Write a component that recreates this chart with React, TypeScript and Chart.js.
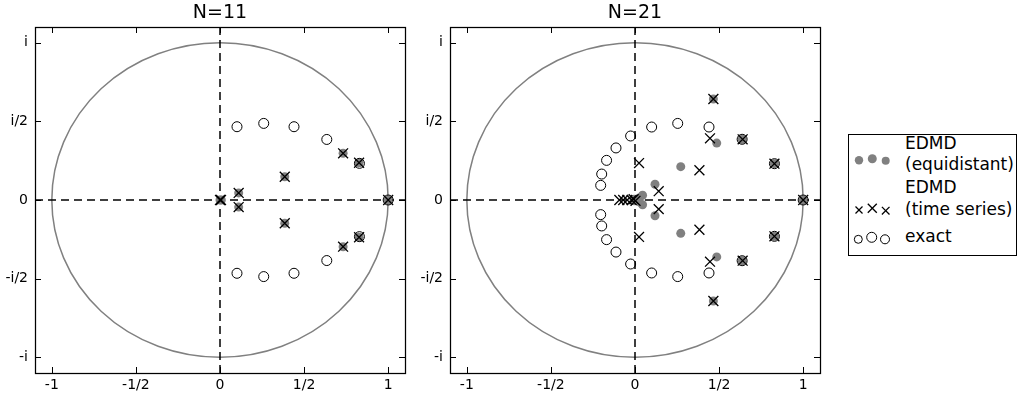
import React, { useEffect, useRef } from 'react';
import { Chart, registerables } from 'chart.js';

Chart.register(...registerables);

// ---- tick definitions ----
const tickValues = [-1, -0.5, 0, 0.5, 1];
const xTickLabels = ['-1', '-1/2', '0', '1/2', '1'];
const yTickLabels = ['-i', '-i/2', '0', 'i/2', 'i'];

// ---- N = 11 ----
const exact11Re = [1.0, 0.829, 0.635, 0.44, 0.26, 0.101, 0.829, 0.635, 0.44, 0.26, 0.101];
const exact11Im = [0, 0.233, 0.385, 0.466, 0.487, 0.466, -0.233, -0.385, -0.466, -0.487, -0.466];
const equi11Re = [1.0, 0.827, 0.827, 0.732, 0.732, 0.385, 0.385, 0.111, 0.111, 0.008, 0.0];
const equi11Im = [0, 0.237, -0.237, 0.297, -0.297, 0.148, -0.148, 0.045, -0.045, 0, 0];
const ts11Re = [1.0, 0.827, 0.827, 0.732, 0.732, 0.385, 0.385, 0.111, 0.111, 0.006, 0.0];
const ts11Im = [0, 0.237, -0.237, 0.297, -0.297, 0.148, -0.148, 0.045, -0.045, 0, 0];

// ---- N = 21 ----
const exact21Re = [1.0, 0.829, 0.637, 0.44, 0.254, 0.099, -0.026, -0.113, -0.169, -0.198, -0.204,
  0.829, 0.637, 0.44, 0.254, 0.099, -0.026, -0.113, -0.169, -0.198, -0.204];
const exact21Im = [0, 0.231, 0.386, 0.464, 0.487, 0.464, 0.407, 0.331, 0.252, 0.165, 0.093,
  -0.231, -0.386, -0.464, -0.487, -0.464, -0.407, -0.331, -0.252, -0.165, -0.093];
const equi21Re = [1.0, 0.829, 0.829, 0.637, 0.637, 0.486, 0.486, 0.466, 0.466, 0.272, 0.272,
  0.119, 0.119, 0.045, 0.045, 0.025, 0.025, 0.01, 0.0, -0.005, -0.005];
const equi21Im = [0, 0.231, -0.231, 0.386, -0.386, 0.362, -0.362, 0.642, -0.642, 0.212, -0.212,
  0.1, -0.1, 0.03, -0.03, 0.012, -0.012, 0, 0, 0.005, -0.005];
const ts21Re = [1.0, 0.829, 0.829, 0.64, 0.64, 0.446, 0.446, 0.466, 0.466, 0.383, 0.383,
  0.024, 0.024, 0.141, 0.141, -0.093, -0.07, -0.046, -0.02, -0.008, 0.003];
const ts21Im = [0, 0.231, -0.231, 0.386, -0.386, 0.392, -0.392, 0.642, -0.642, 0.189, -0.189,
  0.235, -0.235, 0.056, -0.058, 0, 0, 0, 0, 0.005, -0.005];

const FONT = "'DejaVu Sans', sans-serif";

function toPoints(re: number[], im: number[]) {
  return re.map((x, i) => ({ x, y: im[i] }));
}

const framePlugin = {
  id: 'frameAndGuides',
  beforeDatasetsDraw(chart: any) {
    const { ctx, chartArea: a, scales } = chart;
    const xs = scales.x, ys = scales.y;
    ctx.save();
    ctx.beginPath();
    ctx.rect(a.left, a.top, a.right - a.left, a.bottom - a.top);
    ctx.clip();
    const cx = xs.getPixelForValue(0);
    const cy = ys.getPixelForValue(0);
    const rx = xs.getPixelForValue(1) - cx;
    const ry = cy - ys.getPixelForValue(1);
    ctx.strokeStyle = '#808080';
    ctx.lineWidth = 1.5;
    ctx.beginPath();
    ctx.ellipse(cx, cy, rx, ry, 0, 0, Math.PI * 2);
    ctx.stroke();
    ctx.strokeStyle = '#000';
    ctx.lineWidth = 1.5;
    ctx.setLineDash([8, 5]);
    ctx.beginPath();
    ctx.moveTo(a.left, cy);
    ctx.lineTo(a.right, cy);
    ctx.stroke();
    ctx.beginPath();
    ctx.moveTo(cx, a.top);
    ctx.lineTo(cx, a.bottom);
    ctx.stroke();
    ctx.restore();
  },
  afterDraw(chart: any) {
    const { ctx, chartArea: a, scales } = chart;
    const xs = scales.x, ys = scales.y;
    ctx.save();
    ctx.strokeStyle = '#000';
    ctx.lineWidth = 1;
    const L = 6;
    ctx.beginPath();
    tickValues.forEach((v) => {
      const px = Math.round(xs.getPixelForValue(v)) + 0.5;
      ctx.moveTo(px, a.bottom);
      ctx.lineTo(px, a.bottom - L);
      ctx.moveTo(px, a.top);
      ctx.lineTo(px, a.top + L);
      const py = Math.round(ys.getPixelForValue(v)) + 0.5;
      ctx.moveTo(a.left, py);
      ctx.lineTo(a.left + L, py);
      ctx.moveTo(a.right, py);
      ctx.lineTo(a.right - L, py);
    });
    ctx.stroke();
    ctx.lineWidth = 1.25;
    ctx.strokeRect(Math.round(a.left) + 0.5, Math.round(a.top) + 0.5,
      Math.round(a.right - a.left), Math.round(a.bottom - a.top));
    ctx.restore();
  },
};

type PanelProps = {
  title: string;
  left: number;
  exactRe: number[]; exactIm: number[];
  equiRe: number[]; equiIm: number[];
  tsRe: number[]; tsIm: number[];
};

function Panel(props: PanelProps) {
  const ref = useRef<HTMLCanvasElement | null>(null);
  useEffect(() => {
    if (!ref.current) return;
    const chart = new Chart(ref.current, {
      type: 'scatter',
      data: {
        datasets: [
          {
            label: 'exact',
            data: toPoints(props.exactRe, props.exactIm),
            pointStyle: 'circle',
            pointRadius: 5,
            pointBackgroundColor: 'rgba(0,0,0,0)',
            pointBorderColor: '#000',
            pointBorderWidth: 1,
          },
          {
            label: 'EDMD (time series)',
            data: toPoints(props.tsRe, props.tsIm),
            pointStyle: 'crossRot',
            pointRadius: 7,
            pointBorderColor: '#000',
            pointBorderWidth: 1.3,
          },
          {
            label: 'EDMD (equidistant)',
            data: toPoints(props.equiRe, props.equiIm),
            pointStyle: 'circle',
            pointRadius: 4.5,
            pointBackgroundColor: '#808080',
            pointBorderColor: '#808080',
            pointBorderWidth: 0,
          },
        ],
      },
      options: {
        animation: false,
        responsive: false,
        devicePixelRatio: 1,
        events: [],
        layout: { padding: { top: 0, right: 15, left: 0, bottom: 0 } },
        plugins: {
          legend: { display: false },
          tooltip: { enabled: false },
          title: {
            display: true,
            text: props.title,
            fullSize: false,
            color: '#000',
            font: { family: FONT, size: 19, weight: 'normal', lineHeight: 1.2 },
            padding: { top: 2, bottom: 2.2 },
          },
        },
        scales: {
          x: {
            type: 'linear',
            min: -1.1,
            max: 1.1,
            grid: { display: false, drawTicks: false },
            border: { display: false },
            afterBuildTicks: (s: any) => { s.ticks = tickValues.map((v) => ({ value: v })); },
            afterFit: (s: any) => { s.height = 22; },
            ticks: {
              padding: 4,
              color: '#000',
              maxRotation: 0,
              autoSkip: false,
              font: { family: FONT, size: 14 },
              callback: (_v: any, i: number) => xTickLabels[i],
            },
          },
          y: {
            type: 'linear',
            min: -1.1,
            max: 1.1,
            grid: { display: false, drawTicks: false },
            border: { display: false },
            afterBuildTicks: (s: any) => { s.ticks = tickValues.map((v) => ({ value: v })); },
            afterFit: (s: any) => { s.width = 35; },
            ticks: {
              padding: 7,
              color: '#000',
              autoSkip: false,
              font: { family: FONT, size: 14 },
              callback: (_v: any, i: number) => yTickLabels[i],
            },
          },
        },
      } as any,
      plugins: [framePlugin],
    });
    return () => chart.destroy();
  }, []);
  return (
    <canvas
      ref={ref}
      width={420}
      height={395}
      style={{ position: 'absolute', left: props.left, top: 0, width: 420, height: 395, display: 'block' }}
    />
  );
}

const textStyle: React.CSSProperties = {
  position: 'absolute',
  left: 905,
  fontFamily: FONT,
  fontSize: 17,
  lineHeight: '20px',
  color: '#000',
  whiteSpace: 'nowrap',
};

function Legend() {
  const bx = 848, by = 134;
  return (
    <>
      <div style={{
        position: 'absolute', left: bx, top: by, width: 169, height: 122,
        border: '1px solid #000', boxSizing: 'border-box', background: '#fff',
      }} />
      <svg style={{ position: 'absolute', left: bx, top: by }} width={169} height={122}>
        <circle cx={11} cy={26.3} r={4.2} fill="#808080" />
        <circle cx={24.3} cy={24.7} r={4.5} fill="#808080" />
        <circle cx={37.7} cy={26.7} r={4.0} fill="#808080" />
        {[[11, 76, 3.5], [24.3, 74.3, 4.5], [37.7, 76.7, 3.8]].map(([x, y, h], i) => (
          <g key={i} stroke="#000" strokeWidth={1.3}>
            <line x1={x - h} y1={y - h} x2={x + h} y2={y + h} />
            <line x1={x - h} y1={y + h} x2={x + h} y2={y - h} />
          </g>
        ))}
        <circle cx={10.3} cy={105.3} r={4} fill="none" stroke="#000" strokeWidth={1} />
        <circle cx={23.7} cy={103.3} r={5} fill="none" stroke="#000" strokeWidth={1} />
        <circle cx={37} cy={105.3} r={4.5} fill="none" stroke="#000" strokeWidth={1} />
      </svg>
      <div style={{ ...textStyle, top: 133.4 }}>EDMD</div>
      <div style={{ ...textStyle, top: 154.1 }}>(equidistant)</div>
      <div style={{ ...textStyle, top: 177.1 }}>EDMD</div>
      <div style={{ ...textStyle, top: 199.1 }}>(time series)</div>
      <div style={{ ...textStyle, top: 226.1 }}>exact</div>
    </>
  );
}

export default function App() {
  return (
    <div style={{ position: 'absolute', left: 0, top: 0, width: 1018, height: 395, background: '#fff', overflow: 'hidden' }}>
      <Panel title="N=11" left={0}
        exactRe={exact11Re} exactIm={exact11Im}
        equiRe={equi11Re} equiIm={equi11Im}
        tsRe={ts11Re} tsIm={ts11Im} />
      <Panel title="N=21" left={415}
        exactRe={exact21Re} exactIm={exact21Im}
        equiRe={equi21Re} equiIm={equi21Im}
        tsRe={ts21Re} tsIm={ts21Im} />
      <Legend />
    </div>
  );
}
